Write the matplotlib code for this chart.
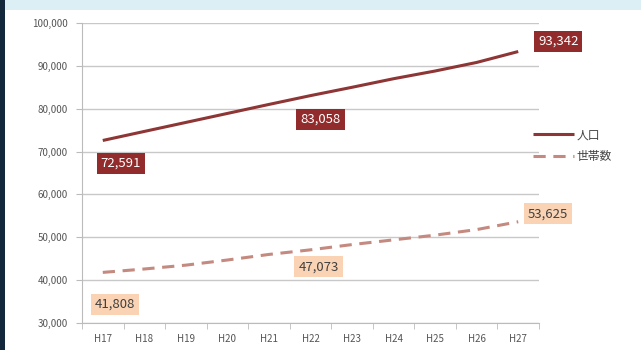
import matplotlib
matplotlib.use("Agg")
import matplotlib.pyplot as plt
from matplotlib.patches import Rectangle

plt.rcParams['font.family'] = ['Noto Sans CJK JP', 'DejaVu Sans']

years = ["H17", "H18", "H19", "H20", "H21", "H22", "H23", "H24", "H25", "H26", "H27"]
population = [72591, 74700, 76800, 78900, 81000, 83058, 85000, 87000, 88800, 90800, 93342]
households = [41808, 42600, 43500, 44700, 46000, 47073, 48300, 49400, 50500, 51800, 53625]
pop_label = "人口"
hh_label = "世帯数"

W, H = 641, 350
fig = plt.figure(figsize=(W / 100, H / 100), dpi=100)
fig.patch.set_facecolor("white")
# background strips
fig.add_artist(Rectangle((0, 1 - 10 / H), 1, 10 / H, transform=fig.transFigure,
                         facecolor="#DCEFF5", edgecolor="none", zorder=-1))
fig.add_artist(Rectangle((0, 0), 5 / W, 1, transform=fig.transFigure,
                         facecolor="#13283A", edgecolor="none", zorder=-1))

ax = fig.add_axes([82 / W, 27 / H, (539 - 82) / W, (323 - 23) / H])
x = list(range(len(years)))

pop_color = "#8E3535"
hh_color = "#C48A80"
ax.plot(x, population, color=pop_color, lw=2.2, solid_capstyle="butt", label=pop_label, zorder=3)
ax.plot(x, households, color=hh_color, lw=2.2, dashes=(4, 2.5), label=hh_label, zorder=3)

ax.set_xlim(-0.5, len(years) - 0.5)
ax.set_ylim(30000, 100000)
ax.set_yticks(range(30000, 100001, 10000))
ax.set_yticklabels([f"{v:,}" for v in range(30000, 100001, 10000)])
ax.set_xticks(x)
ax.set_xticklabels(years)
ax.set_xticks([i - 0.5 for i in range(len(years) + 1)], minor=True)
ax.tick_params(axis="x", which="major", length=0, pad=8, labelsize=7, labelcolor="#555555")
ax.tick_params(axis="x", which="minor", length=4, color="#BBBBBB")
ax.tick_params(axis="y", length=4, color="#BBBBBB", labelsize=7, labelcolor="#555555", pad=6)

ax.grid(axis="y", color="#C8C8C8", lw=1)
ax.set_axisbelow(True)
for s in ["top", "right"]:
    ax.spines[s].set_visible(False)
ax.spines["left"].set_color("#BBBBBB")
ax.spines["bottom"].set_color("#BBBBBB")

def lab(i, vals, dx, dy, fc, tc):
    ax.annotate(f"{vals[i]:,}", (x[i], vals[i]), xytext=(dx, dy), textcoords="offset pixels",
                ha="center", va="center", fontsize=9.5, color=tc, zorder=5,
                bbox=dict(boxstyle="square,pad=0.3", fc=fc, ec="none"))

red_box = "#922B2B"
peach_box = "#FAD3B4"
lab(0, population, 18, -23, red_box, "white")
lab(5, population, 10, -24, red_box, "white")
lab(10, population, 40, 10, red_box, "white")
lab(0, households, 12, -32, peach_box, "#404040")
lab(5, households, 8, -17, peach_box, "#404040")
lab(10, households, 30, 8, peach_box, "#404040")

leg = fig.legend(loc="upper left", bbox_to_anchor=(522 / W, 1 - 118 / H), frameon=False,
                 fontsize=8.5, handlelength=3.5, handletextpad=0.2, labelspacing=0.7,
                 labelcolor="#444444")

fig.savefig("out.png", dpi=100)
